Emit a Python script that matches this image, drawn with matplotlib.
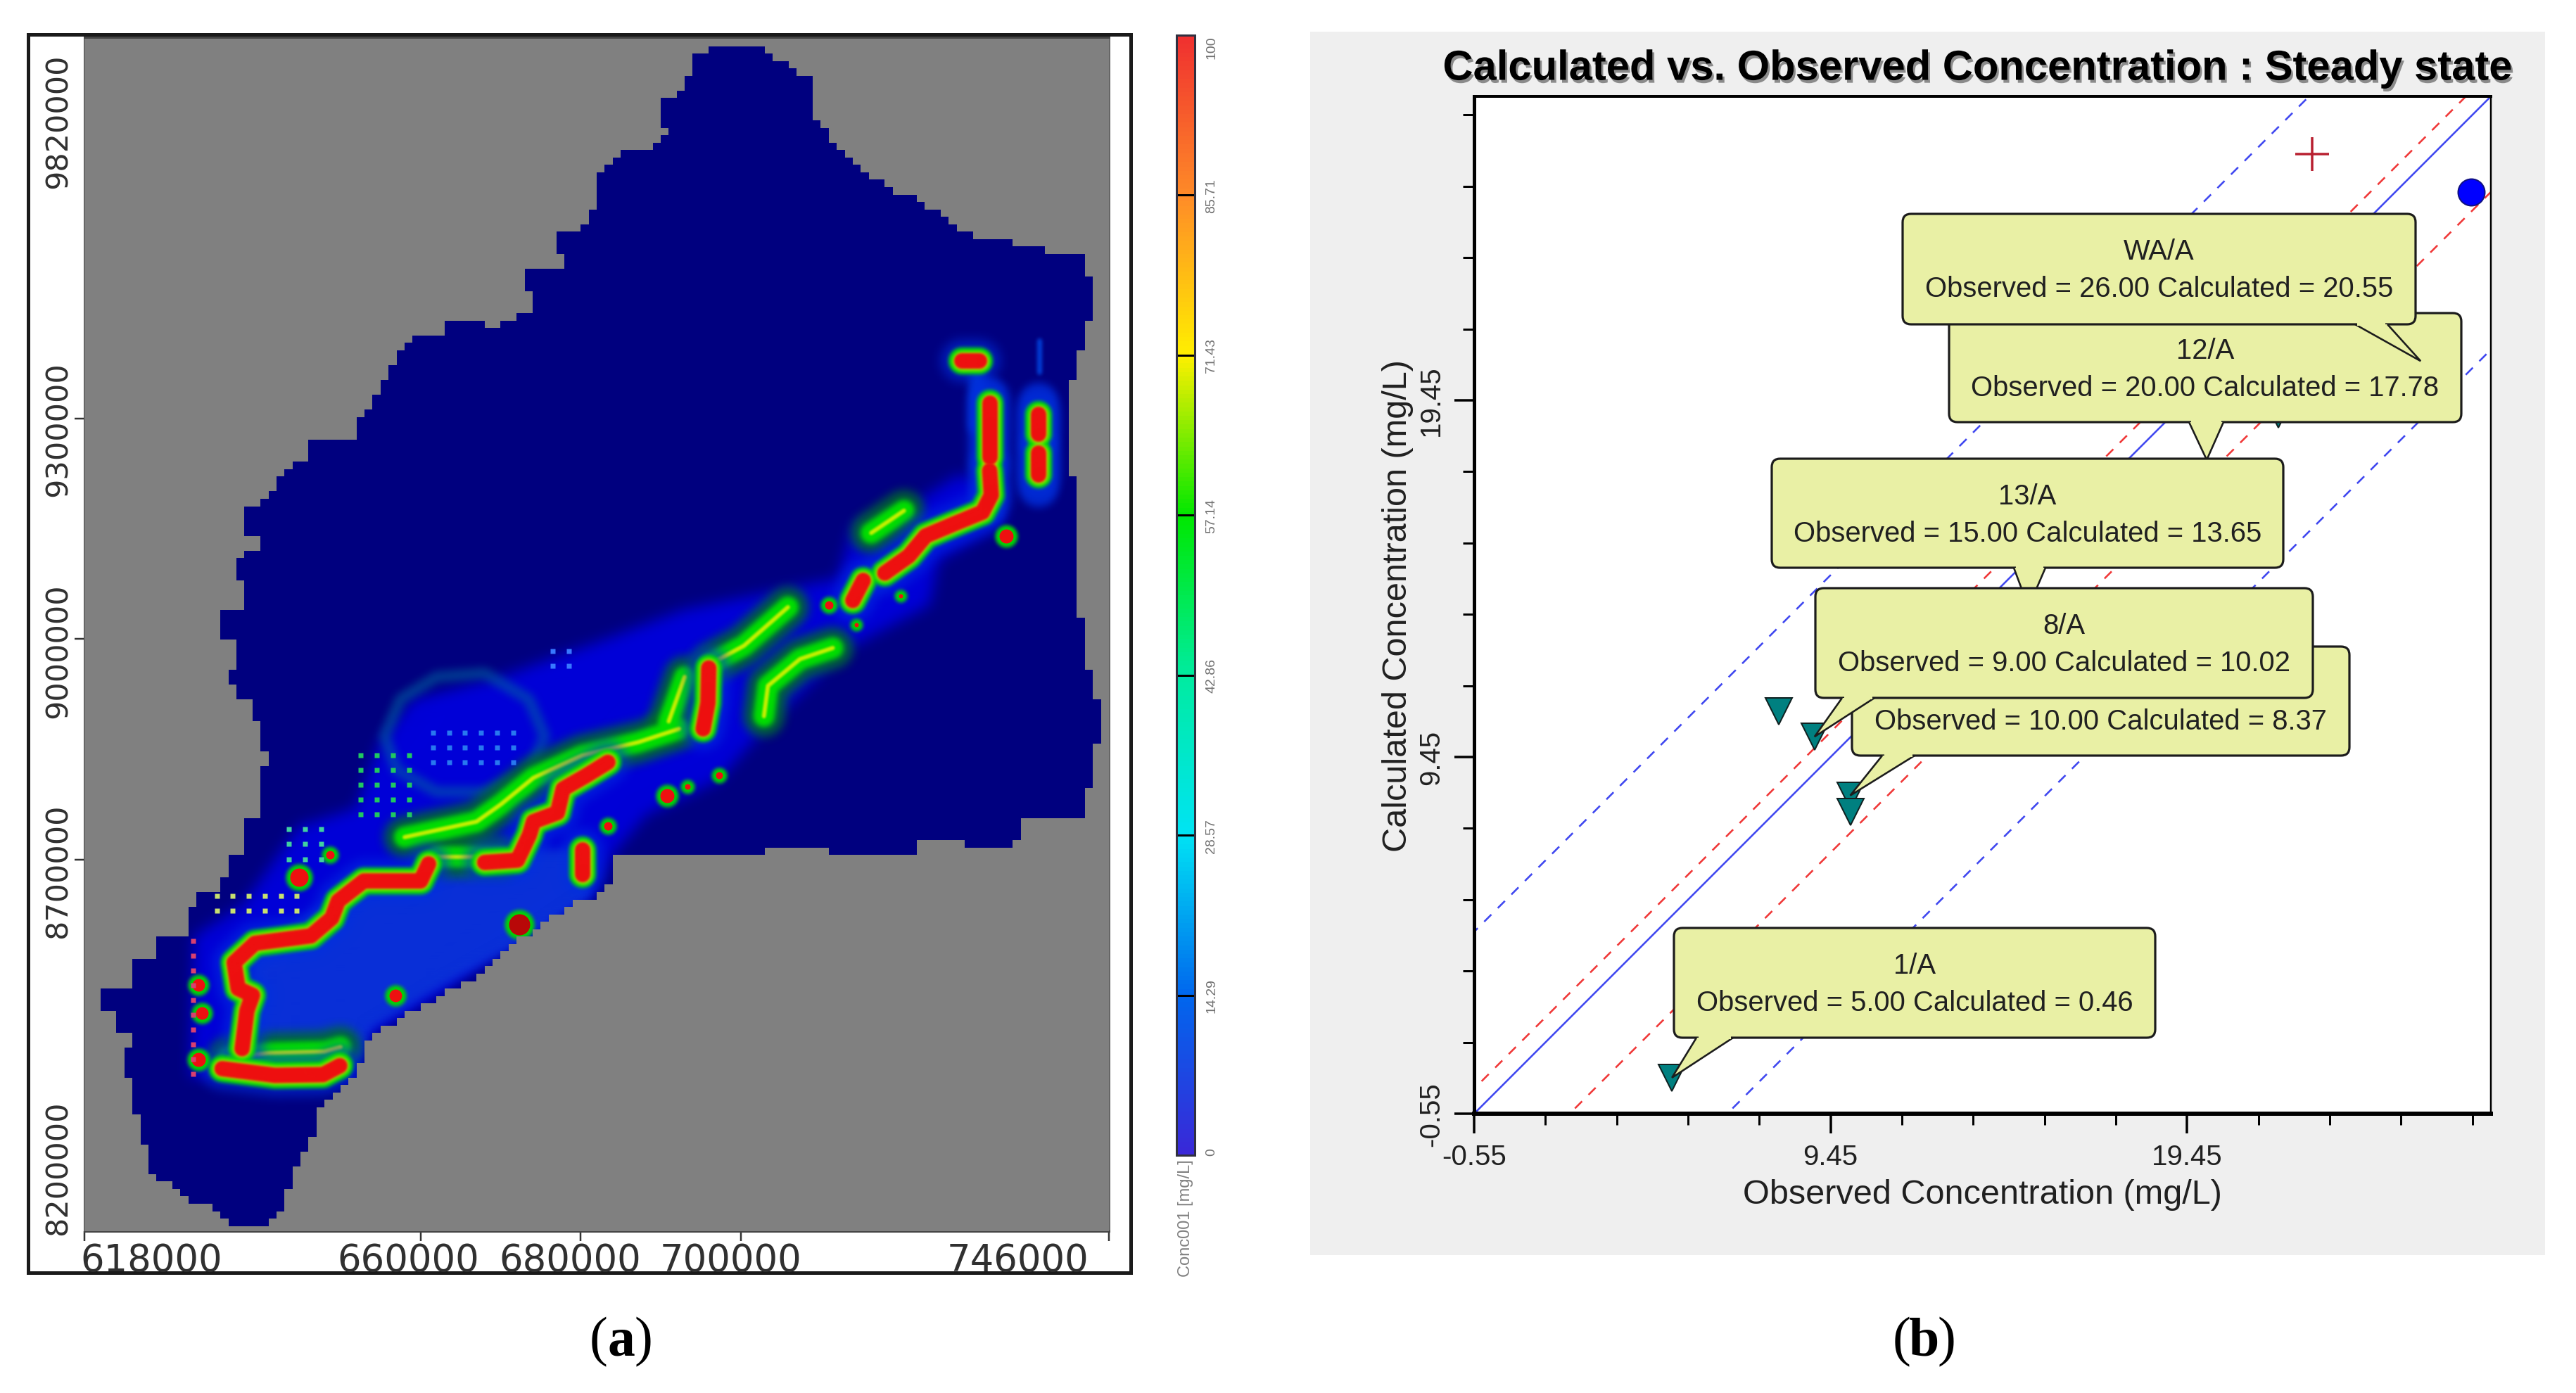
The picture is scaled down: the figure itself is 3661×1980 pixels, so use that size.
#!/usr/bin/env python3
# -*- coding: utf-8 -*-

import matplotlib
matplotlib.use("Agg")
import matplotlib.pyplot as plt
import matplotlib.patheffects as pe
import numpy as np
from matplotlib.colors import LinearSegmentedColormap, ListedColormap
from matplotlib.patches import FancyBboxPatch, Polygon, Rectangle
from matplotlib.path import Path

W, H = 3661, 1981
PT = 0.72  # points per pixel at dpi 100

# ---- panel a: model basin outline, easting / northing in km
basin_e = [696.0, 702.9, 703.9, 705.9, 706.9, 708.9, 708.9, 710.6, 710.9, 716.0, 719.0, 721.6, 723.6, 725.6,
           728.1, 730.2, 733.7, 733.7, 738.0, 738.0, 743.0, 743.0, 744.0, 744.0, 743.0, 743.0, 742.0, 742.0,
           741.0, 741.0, 742.0, 742.0, 743.0, 743.0, 744.0, 744.0, 745.0, 745.0, 744.0, 744.0, 743.0, 743.0,
           742.0, 742.0, 734.7, 734.7, 733.7, 727.8, 727.8, 724.8, 724.8, 721.8, 721.8, 719.0, 715.0, 715.0,
           712.0, 709.5, 703.9, 701.9, 693.1, 693.1, 685.7, 684.0, 684.0, 681.7, 679.7, 673.1, 667.0, 662.0,
           658.0, 653.4, 652.4, 650.9, 647.4, 645.9, 643.9, 643.6, 642.3, 640.0, 636.2, 634.7, 631.2, 628.7,
           626.7, 626.1, 625.1, 624.1, 624.1, 622.9, 622.9, 624.1, 622.1, 621.9, 620.1, 619.9, 623.9, 623.9,
           626.9, 626.9, 630.6, 631.2, 632.2, 635.2, 636.2, 638.3, 638.3, 640.0, 640.0, 640.8, 639.8, 639.0,
           638.0, 636.0, 636.0, 637.0, 637.0, 635.0, 635.0, 638.0, 638.0, 637.0, 637.0, 640.0, 640.0, 638.0,
           638.0, 640.0, 641.8, 642.8, 643.8, 645.8, 645.8, 651.9, 652.4, 653.9, 655.0, 656.0, 657.0, 659.0,
           663.0, 663.0, 668.1, 668.1, 669.6, 672.1, 673.9, 673.9, 673.1, 673.1, 677.6, 678.6, 676.9, 676.9,
           680.1, 681.1, 681.9, 681.9, 684.2, 685.7, 688.7, 688.7, 690.8, 690.8, 689.8, 689.8, 691.1, 692.8,
           693.1, 694.0, 694.0, 696.0]
basin_n = [981.3, 981.3, 979.4, 979.1, 977.3, 976.4, 971.3, 970.4, 968.3, 963.7, 961.4, 961.4, 959.2, 958.4,
           955.9, 954.6, 954.6, 953.7, 953.7, 952.7, 952.7, 949.5, 949.5, 943.9, 943.9, 939.5, 939.5, 935.6,
           935.6, 923.1, 923.1, 904.0, 904.0, 897.2, 897.2, 892.5, 892.5, 887.5, 887.2, 880.6, 880.6, 877.4,
           877.4, 876.5, 876.5, 874.7, 873.4, 873.4, 874.4, 874.4, 873.6, 873.6, 872.5, 871.7, 871.7, 872.2,
           872.2, 873.4, 873.4, 871.9, 871.7, 872.4, 872.4, 871.7, 867.9, 866.1, 865.8, 861.1, 855.4, 852.8,
           850.4, 847.4, 843.3, 840.9, 838.0, 832.0, 829.6, 827.0, 823.7, 822.1, 822.1, 824.3, 825.2, 828.1,
           828.4, 830.8, 834.9, 839.0, 841.5, 842.1, 844.7, 847.8, 848.1, 850.4, 851.0, 853.7, 853.7, 857.5,
           857.8, 861.4, 861.4, 864.6, 867.0, 867.6, 872.3, 872.6, 876.5, 876.6, 881.8, 884.8, 888.4, 892.5,
           892.5, 895.7, 897.2, 897.2, 900.2, 901.4, 905.1, 905.1, 908.7, 908.7, 912.1, 913.2, 914.9, 914.9,
           919.0, 919.0, 921.1, 923.2, 924.7, 924.7, 927.7, 927.7, 930.5, 932.9, 935.3, 936.8, 939.5, 941.6,
           942.0, 943.8, 943.8, 942.9, 942.9, 945.0, 945.0, 947.7, 947.7, 950.6, 950.7, 952.4, 952.7, 955.7,
           956.0, 958.4, 958.9, 963.4, 965.5, 967.3, 967.3, 968.3, 968.6, 970.1, 970.4, 973.4, 974.4, 974.6,
           976.4, 976.7, 980.2, 980.3]

# plume footprint (faint blue) and the brighter body behind the red front
plume_e = [631.2, 651.9, 653.4, 662.0, 673.1, 681.7, 684.2, 688.2, 697.3, 702.9, 713.0, 723.6, 724.7, 732.7,
           732.7, 727.1, 721.1, 714.1, 712.1, 704.0, 692.9, 683.9, 670.0, 659.0, 654.9, 651.9, 644.8, 637.7, 631.7]
plume_n = [842.1, 841.5, 847.4, 852.8, 861.1, 866.4, 872.3, 877.4, 882.1, 889.0, 899.6, 905.7, 911.7, 916.6,
           922.0, 923.2, 919.0, 916.6, 909.3, 907.5, 905.1, 901.4, 896.0, 893.0, 887.2, 878.3, 875.9, 865.2, 861.1]
body_e = [639.8, 651.9, 661.0, 672.1, 680.2, 680.2, 672.1, 662.0, 652.9, 651.9, 639.8, 639.8]
body_n = [857.5, 867.0, 867.6, 871.7, 871.7, 867.0, 861.1, 855.1, 849.2, 845.6, 845.6, 851.0]

# high concentration fronts: (easting, northing)
red_paths = [
    ([637.7, 638.3, 639.0, 637.2, 636.7, 639.3, 646.3, 648.9, 649.7, 652.9, 660.0, 661.0],
     [845.9, 851.0, 853.1, 854.0, 857.5, 860.1, 861.1, 863.5, 865.8, 868.5, 868.5, 870.8]),
    ([668.0, 672.1, 673.6, 674.1, 677.1, 677.8, 680.7, 683.4],
     [871.0, 871.3, 874.7, 876.5, 877.7, 880.9, 882.7, 884.5]),
    ([695.3, 695.9, 696.0], [889.0, 892.5, 897.2]),
    ([635.2, 641.8, 647.8, 649.9], [843.2, 842.3, 842.4, 843.6]),
    ([714.0, 715.3], [906.3, 909.0]),
    ([718.0, 721.0, 723.1, 726.6, 730.2, 731.3, 731.1], [910.0, 912.3, 915.0, 916.6, 918.2, 920.5, 923.8]),
    ([731.1, 731.1], [932.9, 925.6]),
    ([737.2, 737.2], [931.4, 928.7]),
    ([737.2, 737.2], [926.2, 923.2]),
    ([680.2, 680.2], [872.7, 869.4]),
    ([727.6, 729.8], [938.6, 938.6]),
]
green_paths = [
    ([658.0, 667.0, 670.0, 674.1, 680.2, 687.2, 692.3], [874.4, 876.5, 878.8, 882.4, 885.4, 887.2, 889.0]),
    ([662.0, 670.0], [871.7, 871.7]),
    ([636.0, 641.0, 648.0, 650.0], [844.7, 845.3, 845.5, 846.1]),
    ([696.3, 700.4, 705.9], [897.8, 900.2, 905.4]),
    ([702.9, 703.4, 707.4, 711.5], [890.7, 894.8, 898.4, 899.9]),
    ([716.3, 720.4], [915.4, 918.4]),
    ([691.0, 693.0], [890.0, 896.0]),
]
spot_e = [632.2, 632.7, 632.2, 644.8, 648.7, 656.9, 672.3, 690.8, 683.4, 697.3, 693.3, 733.2, 711.0, 720.0, 714.4]
spot_n = [854.5, 850.7, 844.4, 869.0, 872.0, 853.1, 862.6, 880.0, 875.9, 882.7, 881.2, 915.0, 905.7, 906.9, 903.0]
spot_dark = [False, False, False, False, False, False, True, False, False, False, False, False, False, False, False]
spot_px = [9, 9, 10, 13, 6, 9, 15, 10, 6, 5, 4, 10, 6, 3, 3]

ring_e = [655.5, 657.5, 662.0, 668.0, 673.5, 675.5, 673.5, 668.0, 662.0, 657.0, 655.5]
ring_n = [888.0, 893.0, 896.0, 896.5, 893.0, 888.0, 883.0, 880.5, 880.5, 883.5, 888.0]

# dotted cells along the plume margin: easting and northing rows, colour
dot_patches = [
    ([631.5], [842.5, 844.5, 846.5, 848.5, 850.5, 852.5, 854.5, 856.5, 858.5, 860.5], "#d84070"),
    ([634.5, 636.5, 638.5, 640.5, 642.5, 644.5], [864.5, 866.5], "#c8e070"),
    ([643.5, 645.5, 647.5], [871.5, 873.5, 875.5], "#40d0a0"),
    ([652.5, 654.5, 656.5, 658.5], [877.5, 879.5, 881.5, 883.5, 885.5], "#20c860"),
    ([661.5, 663.5, 665.5, 667.5, 669.5, 671.5], [884.5, 886.5, 888.5], "#2878f0"),
    ([676.5, 678.5], [897.5, 899.5], "#3878ff"),
]

map_xticks = [618, 660, 680, 700, 746]
map_xlabels = ["618000", "660000", "680000", "700000", "746000"]
map_xlabel_px = [215, 580, 810, 1039, 1447]
map_yticks = [871.4, 901.1, 930.8]
map_ylabels = ["9820000", "9300000", "9000000", "8700000", "8200000"]
map_ylabel_px = [172, 610, 925, 1238, 1660]

# colour scale
cb_values = [0, 14.29, 28.57, 42.86, 57.14, 71.43, 85.71, 100]
cb_labels = ["0", "14.29", "28.57", "42.86", "57.14", "71.43", "85.71", "100"]
cb_colors = ["#3a28d8", "#0068ee", "#00e4f4", "#00eca0", "#00e800", "#fff000", "#ff8c28", "#f03030"]

# ---- panel b: calculated vs observed
obs = [5.00, 9.00, 10.00, 15.00, 20.00, 26.00]
calc = [0.46, 10.02, 8.37, 13.65, 17.78, 20.55]
well = ["1/A", "8/A", "", "13/A", "12/A", "WA/A"]
other_obs = [8.0, 10.0, 22.0]
other_calc = [10.73, 7.91, 19.06]
circle_obs, circle_calc = [27.42], [25.29]
plus_obs, plus_calc = [22.96], [26.35]
axis_min, axis_max = -0.55, 27.97
red_offsets = [0.7, -2.68]
blue_offsets = [5.1, -7.1]
major_ticks = [-0.55, 9.45, 19.45]
minor_ticks = [1.45, 3.45, 5.45, 7.45, 11.45, 13.45, 15.45, 17.45, 21.45, 23.45, 25.45, 27.45]

# callout boxes in figure pixels: left, top, right, bottom, tail base x0, x1
box_layout = {
    "": (2632, 920, 3339, 1075, 2675, 2721),
    "12/A": (2770, 446, 3498, 601, 3111, 3160),
    "WA/A": (2704, 305, 3433, 462, 3347, 3393),
    "13/A": (2518, 653, 3245, 808, 2862, 2907),
    "8/A": (2580, 837, 3287, 993, 2618, 2664),
    "1/A": (2379, 1320, 3063, 1476, 2411, 2463),
}

plt.rcParams["font.family"] = ["Liberation Sans", "DejaVu Sans"]

fig = plt.figure(figsize=(W / 100, H / 100), dpi=100, facecolor="white")


def px_axes(left, top, right, bottom, **kw):
    return fig.add_axes([left / W, 1 - bottom / H, (right - left) / W, (bottom - top) / H], **kw)


def box_pass(img, r, axis):
    c = np.cumsum(img, axis=axis)
    c = np.concatenate([np.zeros_like(np.take(c, [0], axis=axis)), c], axis=axis)
    n = img.shape[axis]
    hi = np.clip(np.arange(n) + r + 1, 0, n)
    lo = np.clip(np.arange(n) - r, 0, n)
    return (np.take(c, hi, axis=axis) - np.take(c, lo, axis=axis)) / (2 * r + 1)


def blur(r):
    # blur on premultiplied colour, or the transparent white buffer bleeds into the edge
    def f(img, dpi):
        pad = 3 * r + 2
        out = np.pad(img, ((pad, pad), (pad, pad), (0, 0))).astype(float)
        out[..., :3] *= out[..., 3:4]
        for _ in range(3):
            out = box_pass(box_pass(out, r, 0), r, 1)
        out[..., :3] /= np.maximum(out[..., 3:4], 1e-4)
        return np.clip(out, 0, 1), -pad, -pad
    return f


bg = fig.add_axes([0, 0, 1, 1], zorder=0)
bg.set_xlim(0, W)
bg.set_ylim(H, 0)
bg.axis("off")
bg.add_patch(Rectangle((1862, 46), 1755, 1739, fc="#efefef", ec="none"))
frame = Rectangle((40, 50), 1567, 1760, fc="white", ec="#1a1a1a", lw=5 * PT)
bg.add_patch(frame)

# ---- map
ax = px_axes(120, 54, 1576, 1751, zorder=1)
ax.set_facecolor("#808080")

outline = Path(np.column_stack([basin_e, basin_n]))
cols = np.arange(618.5, 746.5, 1.0)
rows = np.arange(820.5, 982.5, 1.0)
gx, gy = np.meshgrid(cols, rows)
inside = outline.contains_points(np.column_stack([gx.ravel(), gy.ravel()])).reshape(gx.shape)
cells = dict(extent=(618, 746, 820, 982), origin="lower", interpolation="nearest", aspect="auto")
ax.imshow(np.ma.masked_where(~inside, inside.astype(float)), cmap=ListedColormap(["#00007f"]), zorder=1, **cells)
# everything outside the active cells is painted over the plume afterwards
ax.imshow(np.ma.masked_where(inside, inside.astype(float)), cmap=ListedColormap(["#808080"]), zorder=6, **cells)


def stroke(x, y, color, lw_px, alpha=1.0, z=3, soft=0):
    line, = ax.plot(x, y, color=color, lw=lw_px * PT, alpha=alpha, solid_capstyle="round",
                    solid_joinstyle="round", zorder=z)
    if soft:
        line.set_agg_filter(blur(soft))


p = Polygon(np.column_stack([plume_e, plume_n]), fc="#0000e8", ec="none", alpha=0.85, zorder=2)
ax.add_patch(p)
p.set_agg_filter(blur(9))
p = Polygon(np.column_stack([body_e, body_n]), fc="#0a30d8", ec="#0a30d8", lw=24 * PT, zorder=2.1)
ax.add_patch(p)
p.set_agg_filter(blur(6))
stroke(ring_e, ring_n, "#0068a0", 16, alpha=0.55, z=2.5, soft=5)
stroke([729.6, 729.6], [936.5, 929.9], "#0040e8", 24, alpha=0.8, z=2.5, soft=5)
stroke([737.3, 737.3], [941.3, 937.1], "#0050f0", 7, alpha=0.8, z=2.5, soft=2)
stroke([737.2, 737.2], [933.0, 921.5], "#0030e0", 56, alpha=0.8, z=2.5, soft=5)
stroke([731.0, 731.0], [934.0, 919.0], "#0030e0", 50, alpha=0.8, z=2.5, soft=5)

for x, y in green_paths:
    stroke(x, y, "#007028", 58, alpha=0.85, soft=6)
    stroke(x, y, "#00e000", 30, z=3.1, soft=3)
    stroke(x, y, "#c8f000", 6, z=3.2, soft=1)
for x, y in red_paths:
    stroke(x, y, "#0030e0", 60, alpha=0.6, z=3.3, soft=7)
    stroke(x, y, "#00e000", 38, z=3.4, soft=2)
    stroke(x, y, "#f0e000", 27, alpha=0.7, z=3.5, soft=2)
    stroke(x, y, "#ee1010", 22, z=3.6, soft=1)
for x, y, dark, r in zip(spot_e, spot_n, spot_dark, spot_px):
    halo, = ax.plot([x], [y], "o", color="#00d800", ms=(2 * r + 12) * PT, mec="none", zorder=3.7)
    halo.set_agg_filter(blur(2))
    ax.plot([x], [y], "o", color="#b80808" if dark else "#ee1010", ms=2 * r * PT, mec="none", zorder=3.8)
for ex, nx, col in dot_patches:
    de, dn = np.meshgrid(ex, nx)
    ax.plot(de.ravel(), dn.ravel(), "s", color=col, ms=7 * PT, mec="none", zorder=4)

ax.set_xlim(618, 746)
ax.set_ylim(821.3, 982.2)
ax.set_xticks(map_xticks)
ax.set_xticklabels([])
ax.set_yticks(map_yticks)
ax.set_yticklabels([])
ax.tick_params(length=14 * PT, width=2.5 * PT, color="#333333")
for s in ax.spines.values():
    s.set_color("#444444")
    s.set_linewidth(3 * PT)
ax.spines["right"].set_color("#666666")

for lab, xp in zip(map_xlabels, map_xlabel_px):
    t = bg.text(xp, 1766, lab, fontsize=38, family="DejaVu Sans", color="#303030", ha="center", va="top")
    t.set_clip_path(frame)
for lab, yp in zip(map_ylabels, map_ylabel_px):
    bg.text(83, yp, lab, fontsize=31, family="DejaVu Sans", color="#303030", rotation=90, ha="center", va="center")

# ---- colour bar
cax = px_axes(1672, 51, 1698, 1643, zorder=1)
cmap = LinearSegmentedColormap.from_list("conc", list(zip(np.array(cb_values) / 100, cb_colors)))
cax.imshow(np.linspace(0, 100, 512)[:, None], cmap=cmap, aspect="auto", origin="lower", extent=(0, 1, 0, 100))
cax.hlines(cb_values[1:-1], 0, 1, color="black", lw=3 * PT)
cax.set_xticks([])
cax.set_yticks([])
for s in cax.spines.values():
    s.set_color("#303040")
    s.set_linewidth(3 * PT)
for v, lab in zip(cb_values, cb_labels):
    yp = 1643 - v / 100 * 1592
    bg.text(1722, yp, lab, fontsize=14, color="#707070", rotation=90, ha="center",
            va="top" if v == 100 else ("bottom" if v == 0 else "center"))
bg.text(1685, 1648, "Conc001 [mg/L]", fontsize=17, color="#808080", rotation=90, ha="center", va="top")

# ---- scatter
bx = px_axes(2095, 138, 3540, 1584, zorder=1)
bx.set_facecolor("white")
ends = np.array([axis_min - 10, axis_max + 10])
bx.plot(ends, ends, color="#4048f0", lw=2.6 * PT)
for off in red_offsets:
    bx.plot(ends, ends + off, color="#f03838", lw=2.6 * PT, dashes=(5.5, 5))
for off in blue_offsets:
    bx.plot(ends, ends + off, color="#4048f0", lw=2.6 * PT, dashes=(5.5, 5))
# the 12/A marker sits behind its own callout tail and does not show
shown = [i for i, name in enumerate(well) if name != "12/A"]
bx.plot([obs[i] for i in shown] + other_obs, [calc[i] for i in shown] + other_calc, "v", color="#008080",
        mec="#102020", mew=2 * PT, ms=38 * PT, ls="none", zorder=3)
bx.plot(plus_obs, plus_calc, "+", color="#b82030", ms=48 * PT, mew=3.5 * PT, ls="none", zorder=3)
bx.plot(circle_obs, circle_calc, "o", color="#0000ff", mec="#101080", mew=2 * PT, ms=38 * PT, ls="none", zorder=4, clip_on=False)

bx.set_xlim(axis_min, axis_max)
bx.set_ylim(axis_min, axis_max)
bx.set_xticks(major_ticks)
bx.set_yticks(major_ticks)
bx.set_xticks(minor_ticks, minor=True)
bx.set_yticks(minor_ticks, minor=True)
bx.set_xticklabels([f"{v:.2f}" for v in major_ticks], fontsize=29, color="#202020")
bx.set_yticklabels([f"{v:.2f}" for v in major_ticks], fontsize=29, color="#202020", rotation=90, va="center")
bx.tick_params(which="major", length=28 * PT, width=3.5 * PT, pad=14 * PT)
bx.tick_params(which="minor", length=16 * PT, width=3 * PT)
bx.spines["left"].set_linewidth(5 * PT)
bx.spines["bottom"].set_linewidth(6 * PT)
bx.spines["top"].set_linewidth(4 * PT)
bx.spines["right"].set_linewidth(2.5 * PT)
bx.set_xlabel("Observed Concentration (mg/L)", fontsize=35, color="#202020", labelpad=12 * PT)
bx.set_ylabel("Calculated Concentration (mg/L)", fontsize=35, color="#202020", labelpad=6 * PT)

top = fig.add_axes([0, 0, 1, 1], zorder=5)
top.set_xlim(0, W)
top.set_ylim(H, 0)
top.axis("off")
top.patch.set_alpha(0)

top.text(2811, 99, "Calculated vs. Observed Concentration : Steady state", fontsize=43, fontweight="bold",
         ha="center", va="center", color="black",
         path_effects=[pe.withSimplePatchShadow(offset=(2, -3), shadow_rgbFace="#808080", alpha=0.9)])

# callouts, tail tips follow the data values
fig.canvas.draw()
BOX = "#e9f0a5"
EDGE = "#1c1c1c"
for name in ["", "12/A", "WA/A", "13/A", "8/A", "1/A"]:
    i = well.index(name)
    l, t, r, b, b0, b1 = box_layout[name]
    tx, ty = bx.transData.transform((obs[i], calc[i]))
    ty = H - ty
    top.add_patch(FancyBboxPatch((l, t), r - l, b - t, boxstyle="round,pad=0,rounding_size=12",
                                 fc=BOX, ec=EDGE, lw=3.2 * PT))
    top.add_patch(Polygon([(b0, b), (tx, ty), (b1, b)], closed=False, fc=BOX, ec=EDGE, lw=2.6 * PT))
    top.plot([b0 + 3, b1 - 3], [b, b], color=BOX, lw=4 * PT, solid_capstyle="butt")
    if name:
        top.text((l + r) / 2, t + 53, name, fontsize=28.8, color="#202020", ha="center", va="center")
    top.text((l + r) / 2, t + 106, f"Observed = {obs[i]:.2f} Calculated = {calc[i]:.2f}", fontsize=28.8,
             color="#202020", ha="center", va="center")

# panel captions
for x0, letter in ((883, "a"), (2735, "b")):
    cap = dict(fontsize=56, family="Liberation Serif", color="black", va="center")
    top.text(x0 - 19, 1908, "(", ha="right", **cap)
    top.text(x0, 1908, letter, ha="center", fontweight="bold", **cap)
    top.text(x0 + 19, 1908, ")", ha="left", **cap)

plt.savefig("out.png", dpi=100)
plt.close()
